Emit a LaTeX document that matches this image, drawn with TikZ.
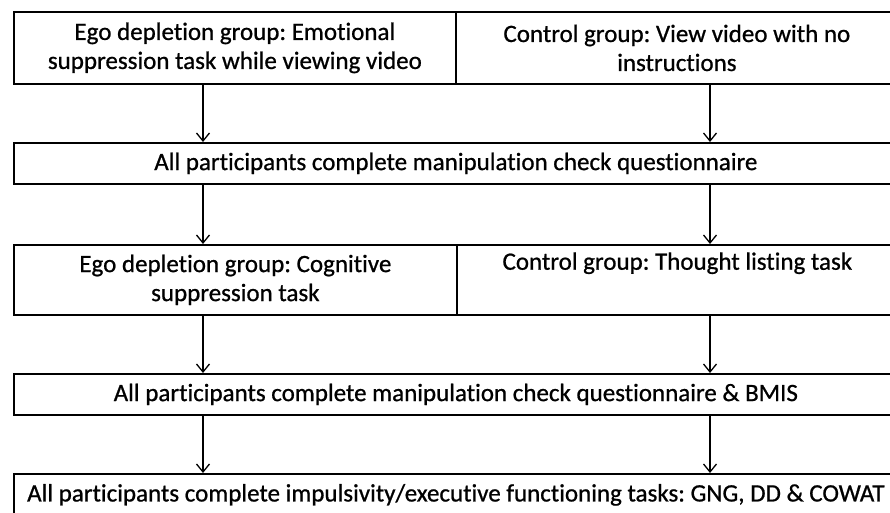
\documentclass[tikz,border=0pt]{standalone}
\usepackage{fontspec}
\setmainfont{Carlito}[Ligatures=NoCommon, FakeBold=0.8]
\frenchspacing
\usetikzlibrary{arrows.meta}
\begin{document}
\begin{tikzpicture}[x=1pt,y=-1pt,
  cell/.style={draw, line width=1.8pt, rectangle, inner sep=0pt, anchor=north west,
    align=center, font=\fontsize{25}{29}\selectfont},
  arr/.style={line width=1.3pt, -{Straight Barb[length=8pt,width=13pt,line width=1.3pt]}}]
\useasboundingbox (0,0) rectangle (890,512);
\begin{scope}
\clip (0,0) rectangle (890,512);
% row 1
\node[cell, minimum width=442pt, minimum height=72pt] (l1) at (13,11)
  {Ego depletion group: Emotional\\suppression task while viewing video};
\node[cell, minimum width=442pt, minimum height=72pt] (r1) at (455,11)
  {Control group: View video with no\\instructions};
% row 2
\node[cell, minimum width=884pt, minimum height=41pt] (m2) at (13,142)
  {All participants complete manipulation check questionnaire};
% row 3
\node[cell, minimum width=443pt, minimum height=70pt] (l3) at (13,244)
  {Ego depletion group: Cognitive\\suppression task};
\node[cell, minimum width=441pt, minimum height=70pt] (r3) at (456,244)
  {Control group: Thought listing task\\\strut};
% row 4
\node[cell, minimum width=884pt, minimum height=41pt] (m4) at (13,373)
  {All participants complete manipulation check questionnaire \& BMIS};
% row 5
\node[cell, minimum width=884pt, minimum height=42pt] (m5) at (13,473)
  {All participants complete impulsivity/executive functioning tasks: GNG, DD \& COWAT};
\end{scope}
\coordinate (xa) at (203,0);
\coordinate (xb) at (710,0);
\draw[arr] (l1.south -| xa) -- (m2.north -| xa);
\draw[arr] (r1.south -| xb) -- (m2.north -| xb);
\draw[arr] (m2.south -| xa) -- (l3.north -| xa);
\draw[arr] (m2.south -| xb) -- (r3.north -| xb);
\draw[arr] (l3.south -| xa) -- (m4.north -| xa);
\draw[arr] (r3.south -| xb) -- (m4.north -| xb);
\draw[arr] (m4.south -| xa) -- (m5.north -| xa);
\draw[arr] (m4.south -| xb) -- (m5.north -| xb);
\end{tikzpicture}
\end{document}
